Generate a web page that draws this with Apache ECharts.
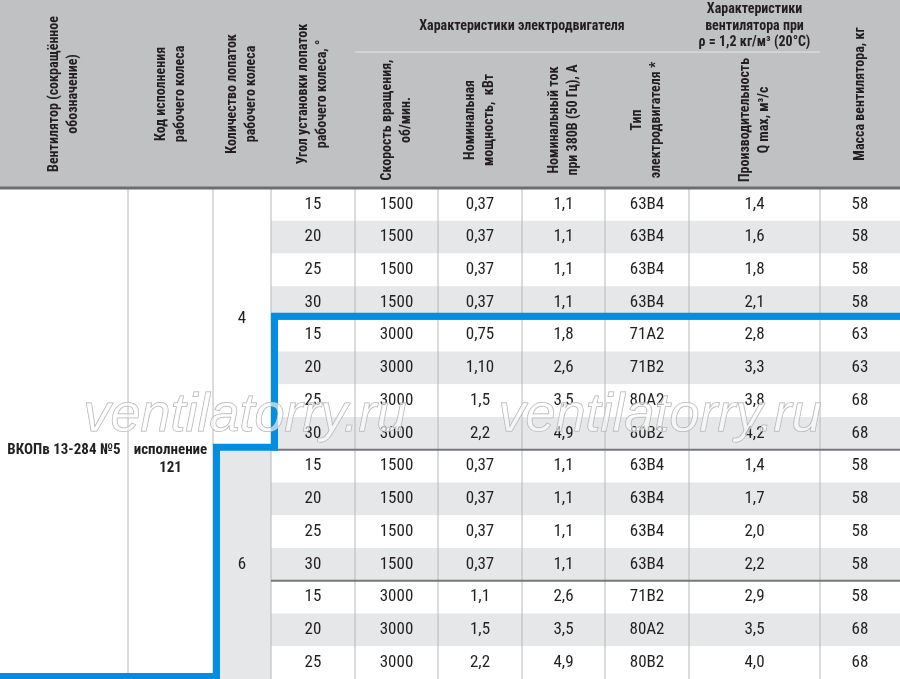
<!DOCTYPE html>
<html>
<head>
<meta charset="utf-8">
<script src="https://cdn.jsdelivr.net/npm/echarts@6/dist/echarts.min.js"></script>
<style>
html, body { margin: 0; padding: 0; background: #fff; }
#container { width: 900px; height: 679px; }
</style>
</head>
<body>
<div id="container"></div>
<script>
// table values, one array per column
var angles     = [15, 20, 25, 30, 15, 20, 25, 30, 15, 20, 25, 30, 15, 20, 25];
var speeds     = [1500, 1500, 1500, 1500, 3000, 3000, 3000, 3000, 1500, 1500, 1500, 1500, 3000, 3000, 3000];
var powers     = ['0,37', '0,37', '0,37', '0,37', '0,75', '1,10', '1,5', '2,2', '0,37', '0,37', '0,37', '0,37', '1,1', '1,5', '2,2'];
var currents   = ['1,1', '1,1', '1,1', '1,1', '1,8', '2,6', '3,5', '4,9', '1,1', '1,1', '1,1', '1,1', '2,6', '3,5', '4,9'];
var motorTypes = ['63В4', '63В4', '63В4', '63В4', '71А2', '71В2', '80А2', '80В2', '63В4', '63В4', '63В4', '63В4', '71В2', '80А2', '80В2'];
var flows      = ['1,4', '1,6', '1,8', '2,1', '2,8', '3,3', '3,8', '4,2', '1,4', '1,7', '2,0', '2,2', '2,9', '3,5', '4,0'];
var masses     = [58, 58, 58, 58, 63, 63, 68, 68, 58, 58, 58, 58, 58, 68, 68];

var fanName = 'ВКОПв 13-284 №5';
var impellerCode = 'исполнение\n121';
var bladeCounts = ['4', '6'];
var bladeRows = [8, 7];

var headTitles = [
    'Вентилятор (сокращённое\nобозначение)',
    'Код исполнения\nрабочего колеса',
    'Количество лопаток\nрабочего колеса',
    'Угол установки лопаток\nрабочего колеса, °',
    'Скорость вращения,\nоб/мин.',
    'Номинальная\nмощность,  кВт',
    'Номинальный ток\nпри 380В (50 Гц), А',
    'Тип\nэлектродвигателя *',
    'Производительность\nQ max, м³/с',
    'Масса вентилятора, кг'
];
var motorGroupTitle = 'Характеристики электродвигателя';
var fanGroupTitle = 'Характеристики\nвентилятора при\nρ = 1,2 кг/м³ (20°С)';
var watermark = 'ventilatorry.ru';

// layout
var COL_EDGES = [0, 128, 213, 271, 355, 438, 522, 605, 689, 820, 900];
var HEAD = 5.74;     // header height in row units
var GROUP = 1.59;    // group title height in row units
var NROWS = angles.length;
var FONT = '"Liberation Sans Narrow", "Roboto Condensed", "DejaVu Sans Condensed", sans-serif';
var HEAD_FONT = 'bold 14px ' + FONT;
var BODY_FONT = '17px ' + FONT;
var HEAD_BG = '#c0c1c3';
var ROW_ALT = '#e6e7e8';
var BLUE = '#008ee0';

var columns = [angles, speeds, powers, currents, motorTypes, flows, masses];

var cells = [];
function addCell(c0, c1, r0, r1, text, fill, font, rotate, lh, dy) {
    cells.push({ c0: c0, c1: c1, r0: r0, r1: r1, text: text, fill: fill,
                 font: font, rotate: rotate, lh: lh || 18, dy: dy || 0 });
}

// header
[0, 1, 2, 3, 9].forEach(function (k) {
    addCell(k, k + 1, -HEAD, 0, headTitles[k], HEAD_BG, HEAD_FONT, true, 19);
});
addCell(4, 8, -HEAD, -HEAD + GROUP, motorGroupTitle, HEAD_BG, HEAD_FONT, false, 17);
addCell(8, 9, -HEAD, -HEAD + GROUP, fanGroupTitle, HEAD_BG, HEAD_FONT, false, 16.5);
[4, 5, 6, 7, 8].forEach(function (k) {
    addCell(k, k + 1, -HEAD + GROUP, 0, headTitles[k], HEAD_BG, HEAD_FONT, true, 19);
});

// merged cells
addCell(0, 1, 0, NROWS + 1, fanName, '#fff', 'bold 15px ' + FONT, false, 18);
addCell(1, 2, 0, NROWS + 1, impellerCode, '#fff', 'bold 15px ' + FONT, false, 18, 9);
var start = 0;
bladeCounts.forEach(function (b, g) {
    addCell(2, 3, start, start + bladeRows[g], b, g % 2 ? ROW_ALT : '#fff', BODY_FONT, false, 18);
    start += bladeRows[g];
});

// body
for (var i = 0; i < NROWS; i++) {
    columns.forEach(function (col, j) {
        addCell(3 + j, 4 + j, i, i + 1, String(col[i]), i % 2 ? ROW_ALT : '#fff', BODY_FONT, false, 18);
    });
}

// rules
var rules = [];
for (var k = 1; k < COL_EDGES.length - 1; k++) {
    rules.push({ x0: k, x1: k, y0: 0, y1: NROWS, color: '#b7b8ba', width: 1 });
    var top = (k >= 5 && k <= 7) ? -HEAD + GROUP : -HEAD;
    rules.push({ x0: k, x1: k, y0: top, y1: 0, color: '#e4e5e6', width: 1 });
}
rules.push({ x0: 4, x1: 9, y0: -HEAD + GROUP, y1: -HEAD + GROUP, color: '#e4e5e6', width: 1 });
// speed group boundaries
for (var r = 1; r < NROWS; r++) {
    if (speeds[r] !== speeds[r - 1]) {
        rules.push({ x0: 3, x1: 10, y0: r, y1: r, color: '#77787b', width: 2 });
    }
}
rules.push({ x0: 0, x1: 10, y0: 0, y1: 0, color: '#6d6e71', width: 3 });

// blue outline of the 3000 rpm / 6 blade block
var firstFast = speeds.indexOf(3000);
var border = [[10, firstFast], [3, firstFast], [3, bladeRows[0]], [2, bladeRows[0]], [2, NROWS], [0, NROWS]];

function renderCell(params, api) {
    var c = cells[params.dataIndex];
    var p0 = api.coord([COL_EDGES[c.c0], c.r0]);
    var p1 = api.coord([COL_EDGES[c.c1], c.r1]);
    var x = p0[0], y = Math.min(p0[1], p1[1]);
    var w = p1[0] - p0[0], h = Math.abs(p1[1] - p0[1]);
    var children = [{ type: 'rect', shape: { x: x, y: y, width: w, height: h }, style: { fill: c.fill } }];
    if (c.text) {
        children.push({
            type: 'text',
            x: x + w / 2,
            y: y + h / 2 + c.dy,
            rotation: c.rotate ? Math.PI / 2 : 0,
            style: { text: c.text, font: c.font, fill: '#231f20', align: 'center', verticalAlign: 'middle', lineHeight: c.lh }
        });
    }
    return { type: 'group', children: children };
}

function renderRule(params, api) {
    var l = rules[params.dataIndex];
    var a = api.coord([COL_EDGES[l.x0], l.y0]);
    var b = api.coord([COL_EDGES[l.x1], l.y1]);
    return { type: 'line', shape: { x1: a[0], y1: a[1], x2: b[0], y2: b[1] }, style: { stroke: l.color, lineWidth: l.width } };
}

function renderBorder(params, api) {
    var pts = border.map(function (p) {
        var q = api.coord([COL_EDGES[p[0]], p[1]]);
        return [q[0] + 3.5, q[1] - 2.5];
    });
    pts[0][0] += 10;
    pts[pts.length - 1][0] -= 10;
    return { type: 'polyline', shape: { points: pts }, style: { stroke: BLUE, lineWidth: 7, fill: null, lineJoin: 'miter' } };
}

var myChart = echarts.init(document.getElementById('container'));

var option = {
    animation: false,
    grid: { left: 0, right: 0, top: 0, bottom: 0 },
    xAxis: { type: 'value', min: 0, max: COL_EDGES[COL_EDGES.length - 1], show: false },
    yAxis: { type: 'value', inverse: true, min: -HEAD, max: NROWS, show: false },
    series: [
        { type: 'custom', silent: true, renderItem: renderCell, data: cells.map(function (c, i) { return [i]; }) },
        { type: 'custom', silent: true, renderItem: renderRule, data: rules.map(function (c, i) { return [i]; }) },
        { type: 'custom', silent: true, renderItem: renderBorder, data: [[0]] }
    ],
    graphic: [245, 660].map(function (cx) {
        return {
            type: 'text', x: cx, y: 416, z: 100, silent: true,
            style: {
                text: watermark, font: 'italic 54px "Liberation Sans", Arial, sans-serif',
                fill: 'rgba(255,255,255,0.6)', stroke: '#a9abad', lineWidth: 1,
                align: 'center', verticalAlign: 'middle'
            }
        };
    })
};

myChart.setOption(option);
</script>
</body>
</html>
